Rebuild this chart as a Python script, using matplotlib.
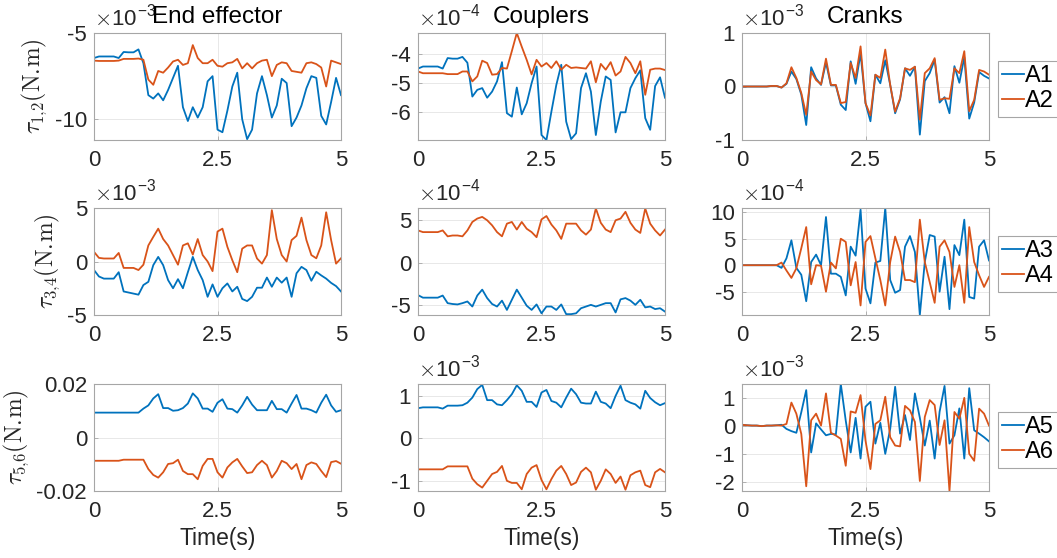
import matplotlib
matplotlib.use('Agg')
import matplotlib.pyplot as plt
import numpy as np

# Time axis (s), one sample every 0.1 s
time = np.round(np.arange(0, 5.01, 0.1), 2)

# End effector (x1e-3, x1e-3, raw N.m)
ee_a1 = [-6.45, -6.36, -6.36, -6.36, -6.36, -6.45, -6.1, -6.12, -6.12, -5.95,
         -6.75, -8.6, -8.8, -8.5, -8.9, -8.3, -7.6, -6.9, -9.3, -10.1,
         -9.3, -9.9, -9.3, -7.8, -7.5, -10.6, -10.75, -9.5, -8.1, -7.3,
         -10.0, -11.15, -10.6, -8.5, -7.5, -8.6, -9.9, -9.2, -7.65, -7.9,
         -10.4, -9.9, -9.2, -8.2, -7.5, -7.6, -9.8, -10.3, -9.0, -7.6, -8.6]
ee_a2 = [-6.6, -6.62, -6.62, -6.62, -6.62, -6.6, -6.5, -6.5, -6.5, -6.48,
         -6.55, -7.7, -8.0, -7.2, -7.3, -7.0, -6.65, -6.55, -6.85, -6.75,
         -5.7, -6.45, -6.75, -6.75, -6.55, -6.9, -6.95, -6.75, -6.7, -6.5,
         -7.05, -6.75, -7.05, -6.75, -6.6, -6.55, -7.5, -6.85, -6.7, -6.75,
         -7.2, -7.25, -7.3, -6.75, -6.7, -6.8, -7.0, -8.1, -6.6, -6.7, -6.8]
ee_a3 = [-0.8, -1.4, -1.6, -1.6, -1.6, -1.0, -2.8, -2.9, -3.0, -3.1,
         -2.2, -1.9, -0.34, 0.43, -0.34, -1.74, -2.5, -1.65, -2.5, -1.0,
         0.43, -0.8, -1.74, -3.3, -2.14, -3.3, -2.5, -2.05, -2.8, -2.36,
         -3.5, -3.7, -3.3, -2.45, -2.45, -1.5, -2.36, -1.5, -1.98, -1.5,
         -3.3, -1.1, -0.5, -0.8, -1.8, -0.96, -1.3, -1.6, -2.0, -2.3, -2.8]
ee_a4 = [0.9, 0.34, 0.28, 0.28, 0.28, 0.8, -0.6, -0.6, -0.6, -0.8,
         -0.3, 1.5, 2.3, 3.07, 2.1, 1.5, 0.6, -0.3, 1.5, 1.7,
         0.65, 2.1, 0.6, 0.0, -0.9, 2.8, 3.07, 1.37, 0.12, -1.0,
         1.2, 1.5, 1.5, 0.28, -0.2, 0.6, 4.8, 2.1, 0.6, 0.0,
         2.0, 2.4, 4.1, 2.0, 0.6, 0.3, 1.5, 4.6, 2.0, -0.2, 0.3]
ee_a5 = [0.0093] * 10 + \
        [0.0108, 0.012, 0.0146, 0.0162, 0.011, 0.011, 0.0100, 0.0102, 0.011, 0.0127,
         0.0165, 0.0146, 0.0108, 0.0108, 0.0096, 0.013, 0.0143, 0.0108, 0.0106, 0.0093,
         0.012, 0.0152, 0.0123, 0.0102, 0.0102, 0.0102, 0.0137, 0.0106, 0.0106, 0.0093,
         0.0127, 0.0159, 0.0108, 0.0108, 0.0102, 0.0093, 0.013, 0.016, 0.012, 0.0096, 0.0102]
ee_a6 = [-0.0087] * 6 + [-0.0083] * 4 + \
        [-0.0083, -0.0118, -0.014, -0.015, -0.013, -0.0099, -0.0096, -0.0083, -0.0125, -0.0137,
         -0.0137, -0.0156, -0.0106, -0.008, -0.008, -0.013, -0.015, -0.0112, -0.0093, -0.008,
         -0.0108, -0.0133, -0.013, -0.0103, -0.0087, -0.0103, -0.015, -0.0125, -0.0087, -0.0096,
         -0.0118, -0.0099, -0.0156, -0.0103, -0.0093, -0.0099, -0.0125, -0.0148, -0.0092, -0.0088, -0.0098]

# Couplers (x1e-4, x1e-4, x1e-3)
cp_a1 = [-4.5, -4.43, -4.43, -4.43, -4.43, -4.5, -4.14, -4.16, -4.16, -4.1,
         -4.3, -5.46, -5.23, -5.17, -5.5, -5.29, -4.94, -4.28, -6.03, -6.15,
         -5.15, -6.07, -5.69, -5.0, -4.43, -6.78, -6.95, -5.98, -5.06, -4.37,
         -6.32, -6.92, -6.72, -5.17, -4.66, -5.29, -6.78, -5.63, -4.77, -4.89,
         -6.69, -6.0, -6.0, -5.17, -4.83, -4.56, -6.2, -6.6, -5.1, -4.8, -5.5]
cp_a2 = [-4.6, -4.66, -4.66, -4.66, -4.66, -4.66, -4.69, -4.69, -4.69, -4.6,
         -4.6, -4.94, -4.77, -4.23, -4.31, -4.71, -4.69, -4.48, -4.5, -3.9,
         -3.28, -3.75, -4.2, -4.7, -4.2, -4.43, -4.31, -4.48, -4.25, -4.54,
         -4.37, -4.48, -4.46, -4.48, -4.5, -4.25, -4.97, -4.34, -4.54, -4.28,
         -4.74, -4.6, -4.1, -4.31, -4.66, -4.25, -5.4, -4.54, -4.5, -4.5, -4.55]
cp_a3 = [-3.85, -4.15, -4.15, -4.15, -4.15, -3.9, -4.8, -4.9, -4.95, -4.8,
         -4.6, -5.2, -3.9, -3.2, -4.2, -4.9, -5.2, -4.5, -5.6, -4.4,
         -3.2, -4.15, -5.1, -5.6, -4.95, -6.0, -5.2, -5.2, -5.6, -4.95,
         -6.1, -6.1, -6.0, -5.4, -5.2, -5.0, -5.2, -5.0, -4.8, -4.8,
         -5.9, -4.35, -4.2, -4.5, -5.0, -4.4, -5.3, -5.2, -5.5, -5.4, -5.8]
cp_a4 = [3.8, 3.6, 3.6, 3.6, 3.6, 3.8, 3.1, 3.2, 3.2, 3.1,
         3.8, 4.8, 5.2, 5.4, 5.0, 4.4, 3.6, 3.1, 4.6, 4.8,
         3.9, 4.8, 4.0, 3.6, 3.0, 5.1, 5.5, 4.5, 3.8, 2.8,
         4.6, 4.6, 4.6, 3.8, 3.3, 3.9, 6.4, 4.7, 3.9, 3.6,
         5.0, 5.2, 6.0, 4.7, 3.9, 3.5, 6.4, 4.6, 3.8, 3.2, 3.9]
cp_a5 = [0.71, 0.73, 0.73, 0.73, 0.73, 0.70, 0.77, 0.77, 0.77, 0.78,
         0.84, 0.96, 1.16, 1.26, 0.9, 0.9, 0.8, 0.78, 0.9, 1.04,
         1.25, 1.12, 0.86, 0.86, 0.74, 1.08, 1.14, 0.88, 0.84, 0.73,
         0.96, 1.17, 1.04, 0.84, 0.82, 0.82, 1.1, 0.86, 0.82, 0.71,
         1.0, 1.24, 0.9, 0.84, 0.8, 0.7, 1.12, 0.95, 0.85, 0.78, 0.83]
cp_a6 = [-0.73, -0.73, -0.73, -0.73, -0.73, -0.73, -0.66, -0.66, -0.66, -0.66,
         -0.66, -0.95, -1.08, -1.16, -1.0, -0.84, -0.79, -0.65, -1.0, -1.05,
         -1.05, -1.2, -0.84, -0.69, -0.63, -0.98, -1.2, -0.96, -0.76, -0.65,
         -0.84, -1.1, -1.04, -0.79, -0.69, -0.8, -1.21, -1.0, -0.73, -0.84,
         -1.05, -0.9, -1.21, -0.87, -0.8, -0.76, -1.1, -1.15, -0.8, -0.72, -0.8]

# Cranks (x1e-3, x1e-4, x1e-3)
cr_a1 = [0, 0, 0, 0, 0, 0, 0.01, 0.01, -0.02, 0.05,
         0.28, 0.14, -0.15, -0.72, 0.36, 0.15, 0.03, 0.45, 0.02, 0.02,
         -0.34, -0.44, 0.47, 0.05, 0.62, -0.31, -0.65, 0.22, 0.06, 0.49,
         0.03, -0.5, -0.24, 0.34, 0.2, 0.37, -0.9, 0.1, 0.25, 0.5,
         -0.3, -0.2, -0.5, 0.38, 0.07, 0.55, -0.6, -0.3, 0.27, 0.2, 0.15]
cr_a2 = [0, 0, 0, 0, 0, 0, 0.01, 0.01, -0.02, 0.06,
         0.36, 0.16, -0.12, -0.53, 0.28, 0.12, 0.04, 0.52, 0.03, 0.03,
         -0.31, -0.29, 0.44, 0.16, 0.75, -0.31, -0.54, 0.22, 0.16, 0.69,
         0.03, -0.47, -0.22, 0.34, 0.31, 0.37, -0.62, 0.25, 0.34, 0.53,
         -0.25, -0.22, -0.23, 0.34, 0.25, 0.66, -0.46, -0.25, 0.31, 0.28, 0.22]
cr_a3 = [0, 0, 0, 0, 0, 0, 0, 0, -0.5, 1.3,
         4.7, -0.5, -1.8, -6.8, 0.6, 2.0, 0.0, 9.1, -1.6, -1.6,
         -2.2, -5.7, 3.5, 1.8, 10.5, -4.4, -7.2, 0.5, 0.8, 10.8,
         -2.8, -5.2, -4.7, 3.5, 5.5, 2.5, -9.4, 0.6, 5.7, 5.4,
         -5.0, 1.6, -8.3, 3.8, 1.9, 8.6, -6.0, -6.3, 3.5, 4.7, 0.9]
cr_a4 = [0, 0, 0, 0, 0, 0, 0, 0, 0.5, -1.0,
         -2.4, -0.6, 3.2, 7.2, -3.6, 0.0, -0.1, -5.0, 0.5, -0.6,
         5.0, 4.4, -3.8, 0.6, -7.6, 4.4, 5.5, 1.3, -2.8, -7.6,
         0.6, 5.4, 2.5, -2.8, -2.8, -3.2, 8.6, 0.6, -3.2, -7.1,
         3.5, 4.7, 2.5, -4.1, 0.0, -7.1, 7.2, 0.6, -1.9, -4.1, -2.2]
cr_a5 = [0.05, 0.03, 0.02, 0.02, 0.0, 0.02, 0.02, 0.03, 0.05, -0.1,
         -0.18, -0.24, 0.5, 1.3, -0.95, 0.1, -0.12, -0.33, -0.28, -0.3,
         1.52, 0.2, -0.95, 0.3, -1.17, 0.7, 0.88, -0.63, 0.12, -1.0,
         -0.1, 1.42, -0.27, 0.4, -0.5, 1.18, 0.3, -0.7, 0.2, -1.17,
         0.52, 1.45, -0.63, -0.33, 0.64, -1.17, 1.37, -0.15, -0.27, -0.4, -0.55]
cr_a6 = [0.05, 0.03, 0.02, 0.02, 0.0, 0.02, 0.02, 0.03, 0.02, 0.08,
         0.85, 0.45, -0.28, -2.17, 0.21, 0.45, 0.02, 1.18, -0.24, -0.34,
         -0.46, -1.43, 0.53, 0.48, 1.12, -0.52, -1.55, 0.08, 0.21, 1.06,
         -0.4, -0.7, -0.73, 0.73, 0.57, 0.15, -1.98, 0.33, 0.94, 0.76,
         -0.68, 0.21, -2.34, 0.51, 0.27, 1.02, -1.0, -1.25, 0.63, 0.45, 0.02]

titles = ['End effector', 'Couplers', 'Cranks']
ylabels = [r'$\tau_{1{,}2}(\mathrm{N.\!m})$', r'$\tau_{3{,}4}(\mathrm{N.\!m})$',
           r'$\tau_{5{,}6}(\mathrm{N.\!m})$']
legends = [['A1', 'A2'], ['A3', 'A4'], ['A5', 'A6']]

# series per [row][col]
series = [[(ee_a1, ee_a2), (cp_a1, cp_a2), (cr_a1, cr_a2)],
          [(ee_a3, ee_a4), (cp_a3, cp_a4), (cr_a3, cr_a4)],
          [(ee_a5, ee_a6), (cp_a5, cp_a6), (cr_a5, cr_a6)]]
exponents = [[-3, -4, -3], [-3, -4, -4], [None, -3, -3]]
ylims = [[(-11.2, -5), (-6.95, -3.28), (-1, 1)],
         [(-5, 5), (-6.2, 6.45), (-9.4, 10.8)],
         [(-0.02, 0.02), (-1.24, 1.28), (-2.34, 1.52)]]
yticks = [[[-10, -5], [-6, -5, -4], [-1, 0, 1]],
          [[-5, 0, 5], [-5, 0, 5], [-5, 0, 5, 10]],
          [[-0.02, 0, 0.02], [-1, 0, 1], [-2, -1, 0, 1]]]

BLUE = '#0072BD'
ORANGE = '#D95319'
TXT = '#262626'
FRAME = '#a6a6a6'

plt.rcParams['font.family'] = ['Liberation Sans', 'DejaVu Sans']
plt.rcParams['mathtext.fontset'] = 'cm'
plt.rcParams['axes.unicode_minus'] = False

fig = plt.figure(figsize=(10.57, 5.58), dpi=100)

lefts = [94, 418, 742]
tops = [33, 208, 384]
W, H = 247, 107
FW, FH = 1057, 558

for r in range(3):
  for c in range(3):
    ax = fig.add_axes([lefts[c] / FW, 1 - (tops[r] + H) / FH, W / FW, H / FH])
    y1, y2 = series[r][c]
    ax.plot(time, y1, color=BLUE, lw=1.3, label=legends[r][0])
    ax.plot(time, y2, color=ORANGE, lw=1.3, label=legends[r][1])
    ax.set_xlim(0, 5)
    ax.set_ylim(*ylims[r][c])
    ax.set_xticks([0, 2.5, 5])
    ax.set_xticklabels(['0', '2.5', '5'])
    ax.set_yticks(yticks[r][c])
    if r == 2 and c == 0:
      ax.set_yticklabels(['-0.02', '0', '0.02'])
    else:
      ax.set_yticklabels([str(v) for v in yticks[r][c]])
    ax.tick_params(direction='in', length=3, width=0.6, colors=FRAME,
                   labelcolor=TXT, labelsize=16)
    ax.tick_params(axis='x', pad=7)
    ax.tick_params(axis='y', pad=5)
    ax.grid(True, color='#e8e8e8', lw=0.7)
    ax.set_axisbelow(True)
    for sp in ax.spines.values():
      sp.set_color(FRAME)
      sp.set_linewidth(0.8)
    # MATLAB-style exponent label
    if exponents[r][c] is not None:
      ax.text(0.0, 1.015, r'$\times$10$^{\mathregular{%d}}$' % exponents[r][c],
              transform=ax.transAxes, ha='left', va='bottom', fontsize=16, color=TXT)
    if r == 0:
      ax.set_title(titles[c], fontsize=17.5, color='black', pad=7)
    if c == 0:
      ax.set_ylabel(ylabels[r], fontsize=17, color=TXT, labelpad=4)
    if r == 2:
      ax.set_xlabel('Time(s)', fontsize=16.5, color=TXT, labelpad=4)
    if c == 2:
      leg = ax.legend(loc='center left', bbox_to_anchor=(1.035, 0.48), fontsize=17,
                      frameon=True, fancybox=False, edgecolor=FRAME, framealpha=1,
                      handlelength=0.9, handletextpad=0.05, borderpad=0.2,
                      labelspacing=0.1, borderaxespad=0)
      leg.get_frame().set_linewidth(0.8)

fig.savefig('out.png', dpi=100)
